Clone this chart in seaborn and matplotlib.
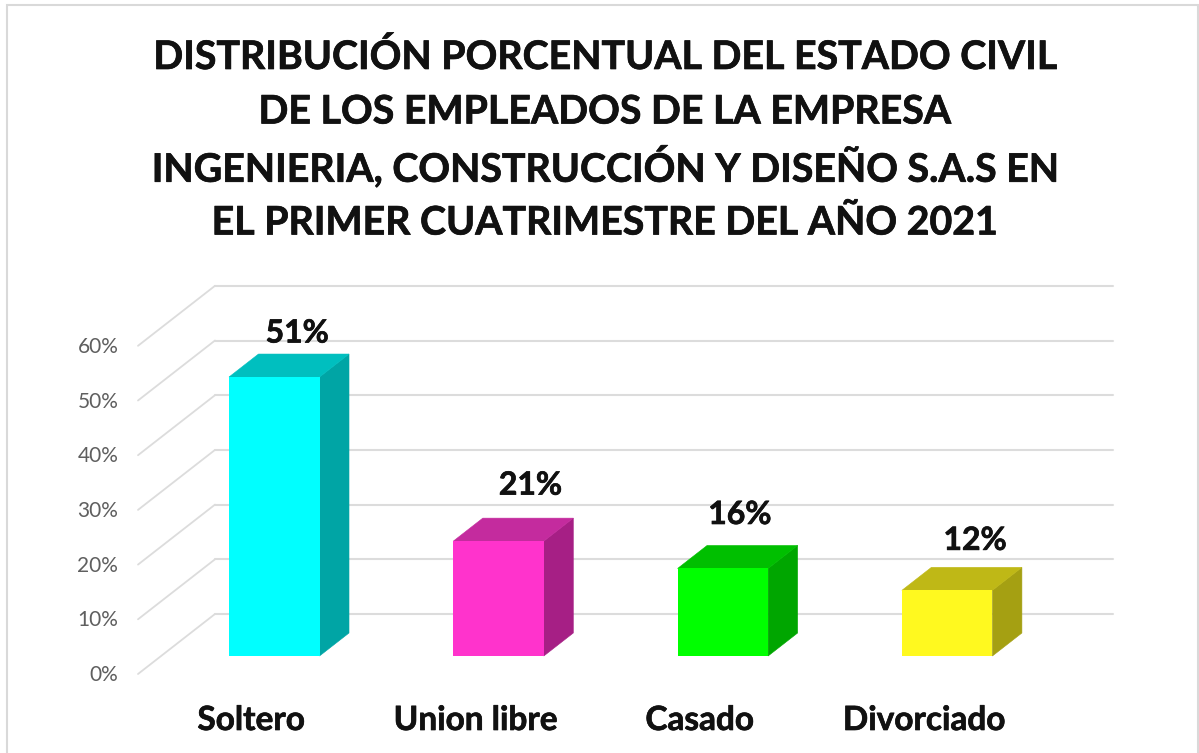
import matplotlib
matplotlib.use("Agg")
import matplotlib.pyplot as plt
import matplotlib.patheffects as pe
import matplotlib.transforms as mtrans
from matplotlib.patches import Polygon, Rectangle
import seaborn as sns

estado_civil = ['Soltero', 'Union libre', 'Casado', 'Divorciado']
porcentaje = [51, 21, 16, 12]
etiquetas = ['51%', '21%', '16%', '12%']
ticks = [0, 10, 20, 30, 40, 50, 60]
tick_labels = ['0%', '10%', '20%', '30%', '40%', '50%', '60%']
titulo = ['DISTRIBUCIÓN PORCENTUAL DEL ESTADO CIVIL',
          'DE LOS EMPLEADOS DE LA EMPRESA',
          'INGENIERIA, CONSTRUCCIÓN Y DISEÑO S.A.S EN',
          'EL PRIMER CUATRIMESTRE DEL AÑO 2021']

color_frente = ['#00FFFF', '#FF33CC', '#00FF00', '#FFF91F']
color_lado = ['#00A5A5', '#A61F85', '#00A600', '#A5A012']
color_tapa = ['#00BFBF', '#C42B9E', '#00BF00', '#BFB816']
# pixel offset of each value label from the top centre of its bar
label_offset = [(23, 44), (32, 56), (17, 54), (28, 50)]
titulo_y = [57, 112, 167, 223]

W, H = 1199, 753
sns.set_style('white')
plt.rcParams['font.family'] = ['Lato', 'DejaVu Sans']
grueso = [pe.withStroke(linewidth=0.5, foreground='#111111')]

fig = plt.figure(figsize=(W / 100, H / 100), dpi=100)
# 0% of the bars sits at y=656px, one category step is 224.3px
ax = fig.add_axes([162.1 / W, (H - 656) / H, 897.2 / W, 328.2 / H])
px_x, px_y = 224.3, 5.47

sns.barplot(x=estado_civil, y=porcentaje, hue=estado_civil, palette=color_frente,
            saturation=1, width=0.4035, dodge=False, legend=False, linewidth=0, ax=ax)
ax.set_xlim(-0.5, 3.5)
ax.set_ylim(0, 60)
sns.despine(ax=ax, left=True, bottom=True)

# back wall and side wall gridlines
back_x0, back_x1 = (215 - 274.25) / px_x, (1113 - 274.25) / px_x
front_x = (138 - 274.25) / px_x
back_dy, front_dy = 42 / px_y, -18 / px_y
grid = '#DCDCDC'
for t in ticks:
    ax.plot([back_x0, back_x1], [t + back_dy] * 2, color=grid, lw=1.5, zorder=0.5, clip_on=False)
    ax.plot([front_x, back_x0], [t + front_dy, t + back_dy], color=grid, lw=1.3, zorder=0.5, clip_on=False)

# fake 3D faces taken from the seaborn bars
dx, dy = 29.5 / px_x, 23 / px_y
for bar, lado, tapa in zip(ax.patches, color_lado, color_tapa):
    x0, x1, h = bar.get_x(), bar.get_x() + bar.get_width(), bar.get_height()
    bar.set_zorder(3)
    ax.add_patch(Polygon([(x1, 0), (x1 + dx, dy), (x1 + dx, h + dy), (x1, h)],
                         fc=lado, ec=lado, lw=0.4, zorder=2.5, clip_on=False))
    ax.add_patch(Polygon([(x0, h), (x0 + dx, h + dy), (x1 + dx, h + dy), (x1, h)],
                         fc=tapa, ec=tapa, lw=0.4, zorder=2.6, clip_on=False))

for i, (val, txt, off) in enumerate(zip(porcentaje, etiquetas, label_offset)):
    ax.annotate(txt, (i, val), xytext=off, textcoords='offset pixels', ha='center', va='center',
                fontsize=23, fontweight='bold', color='#111111', zorder=5, path_effects=grueso)

ax.set_yticks(ticks, tick_labels)
ax.tick_params(axis='y', length=0, pad=31.5, labelsize=15, labelcolor='#5F5F5F')
ax.tick_params(axis='x', length=0, pad=36, labelsize=24, labelcolor='#111111')
for lab in ax.get_xticklabels():
    lab.set_fontweight('bold')
    lab.set_path_effects(grueso)
    lab.set_transform(lab.get_transform() + mtrans.Affine2D().translate(-23, 0))
for lab in ax.get_yticklabels():
    lab.set_transform(lab.get_transform() + mtrans.Affine2D().translate(0, -17))

for linea, y in zip(titulo, titulo_y):
    fig.text(603.5 / W, 1 - y / H, linea, ha='center', va='center', fontsize=28.3,
             fontweight='bold', color='#111111', path_effects=grueso)

# chart area border, runs off the bottom of the picture
fig.add_artist(Rectangle((7 / W, -0.05), (W - 8) / W, 1.05 - 5.5 / H, transform=fig.transFigure,
                         fill=False, ec='#D9D9D9', lw=1.5))

fig.savefig('out.png', dpi=100)
